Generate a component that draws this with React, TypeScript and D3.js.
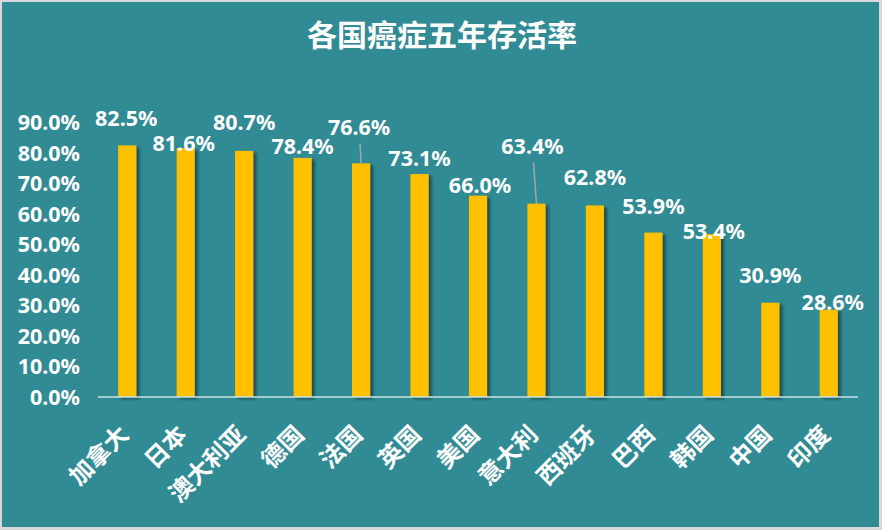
import { scaleBand, scaleLinear, format } from "d3"

const countries = ["加拿大", "日本", "澳大利亚", "德国", "法国", "英国", "美国", "意大利", "西班牙", "巴西", "韩国", "中国", "印度"]
const survival = [0.825, 0.816, 0.807, 0.784, 0.766, 0.731, 0.66, 0.634, 0.628, 0.539, 0.534, 0.309, 0.286]
const yTicks = [0, 0.1, 0.2, 0.3, 0.4, 0.5, 0.6, 0.7, 0.8, 0.9]

// label nudges (px) as moved by hand in the original chart
const labelShift: [number, number][] = [
  [-1, -27], [-2, -5], [0, -28], [0, -11], [-2, -36], [0, -16], [2, -10],
  [-4, -57], [0, -28], [0, -26], [2, -3], [0, -27], [4, -7],
]
const leaderLines = new Set(["法国", "意大利"])

const W = 882
const H = 530
const margin = { top: 122, right: 24, bottom: 133, left: 98 }

export default function App() {
  const x = scaleBand<string>()
    .domain(countries)
    .range([margin.left, W - margin.right])
    .paddingInner(0.69)
    .paddingOuter(0.345)

  const y = scaleLinear()
    .domain([0, 0.9])
    .range([H - margin.bottom, H - margin.bottom - 274.5])

  const pct = format(".1%")
  const font = "'Noto Sans', 'Noto Sans CJK SC', sans-serif"
  const cjk = "'Noto Sans CJK SC', 'Noto Sans', sans-serif"

  return (
    <div style={{ position: "absolute", left: 0, top: 0 }}>
      <svg width={W} height={H} style={{ display: "block" }}>
        <defs>
          <filter id="bar-shadow" x="-50%" y="-10%" width="200%" height="120%">
            <feDropShadow dx="3" dy="2" stdDeviation="1.6" floodColor="#0b2f33" floodOpacity="0.7" />
          </filter>
        </defs>
        <rect width={W} height={H} fill="#d9d9d9" />
        <rect x={2} y={2} width={W - 5} height={H - 5} fill="#318b94" />

        {/* 标题 */}
        <text
          x={442}
          y={35}
          dy="0.36em"
          textAnchor="middle"
          fill="#fff"
          fontFamily={cjk}
          fontWeight={700}
          fontSize={30}
        >
          各国癌症五年存活率
        </text>

        {/* Y 轴 */}
        {yTicks.map((t) => (
          <text
            key={t}
            x={80}
            y={y(t)}
            dy="0.35em"
            textAnchor="end"
            fill="#fff"
            fontFamily={font}
            fontWeight={700}
            fontSize={21.5}
          >
            {pct(t)}
          </text>
        ))}

        {/* 柱子 */}
        {countries.map((c, i) => (
          <rect
            key={c}
            x={x(c)}
            y={y(survival[i])}
            width={x.bandwidth()}
            height={y(0) - y(survival[i])}
            fill="#ffc000"
            filter="url(#bar-shadow)"
          />
        ))}

        {/* X 轴线 */}
        <line
          x1={margin.left}
          x2={W - margin.right}
          y1={y(0)}
          y2={y(0)}
          stroke="#c7e3e6"
          strokeWidth={1.5}
        />

        {/* 引导线 */}
        {countries.map((c, i) => {
          if (!leaderLines.has(c)) return null
          const cx = (x(c) ?? 0) + x.bandwidth() / 2
          const [dx, dy] = labelShift[i]
          return (
            <line
              key={c}
              x1={cx + dx + 1}
              y1={y(survival[i]) + dy + 16}
              x2={cx}
              y2={y(survival[i])}
              stroke="#a6a6a6"
              strokeWidth={1.5}
            />
          )
        })}

        {/* 数据标签 */}
        {countries.map((c, i) => {
          const cx = (x(c) ?? 0) + x.bandwidth() / 2
          const [dx, dy] = labelShift[i]
          return (
            <text
              key={c}
              x={cx + dx}
              y={y(survival[i]) + dy}
              dy="0.35em"
              textAnchor="middle"
              fill="#fff"
              fontFamily={font}
              fontWeight={700}
              fontSize={21.5}
            >
              {pct(survival[i])}
            </text>
          )
        })}

        {/* 类别标签 */}
        {countries.map((c) => {
          const cx = (x(c) ?? 0) + x.bandwidth() / 2 - 3
          const cy = 430
          return (
            <text
              key={c}
              transform={`translate(${cx},${cy}) rotate(-45)`}
              dy="0.35em"
              textAnchor="end"
              fill="#fff"
              fontFamily={cjk}
              fontWeight={700}
              fontSize={24}
            >
              {c}
            </text>
          )
        })}
      </svg>
    </div>
  )
}
